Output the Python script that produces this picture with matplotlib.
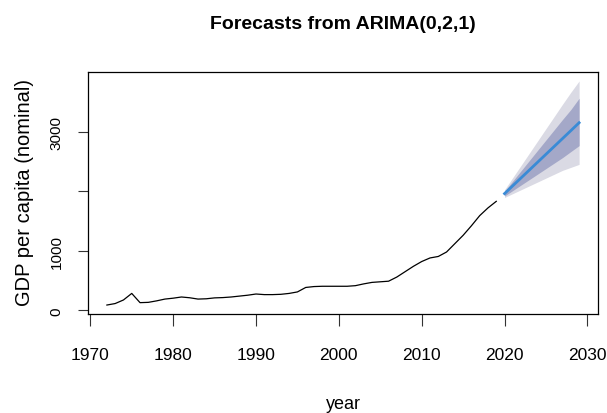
import numpy as np
import matplotlib
matplotlib.use("Agg")
import matplotlib.pyplot as plt

# observed GDP per capita (nominal), 1972-2019
years = np.arange(1972, 2020)
gdp = [90, 115, 175, 285, 130, 135, 160, 190, 205, 225,
       212, 190, 195, 210, 215, 225, 240, 255, 275, 265,
       265, 270, 285, 310, 385, 400, 405, 405, 405, 405,
       415, 445, 470, 480, 490, 560, 650, 740, 820, 880,
       905, 980, 1120, 1260, 1420, 1590, 1720, 1830]

# ARIMA(0,2,1) point forecast and prediction intervals, 2020-2029
fc_years = np.arange(2020, 2030)
fc_mean = [1960, 2092, 2224, 2356, 2488, 2620, 2752, 2884, 3016, 3149]
lo80 = [1920, 2012, 2104, 2196, 2288, 2380, 2472, 2564, 2665, 2765]
hi80 = [2000, 2172, 2344, 2516, 2688, 2860, 3032, 3204, 3370, 3560]
lo95 = [1895, 1960, 2025, 2090, 2155, 2220, 2285, 2350, 2400, 2450]
hi95 = [2025, 2230, 2435, 2640, 2845, 3050, 3255, 3460, 3660, 3850]

yticks = [0, 1000, 2000, 3000]
ytick_labels = ["0", "1000", "", "3000"]
xticks = [1970, 1980, 1990, 2000, 2010, 2020, 2030]

font = ["Liberation Sans", "DejaVu Sans"]

W, H = 607, 414
fig = plt.figure(figsize=(W / 100, H / 100), dpi=100)
ax = fig.add_axes([88 / W, 1 - 315 / H, 510 / W, 242 / H])

ax.fill_between(fc_years, lo95, hi95, color="#dadae4", lw=0)
ax.fill_between(fc_years, lo80, hi80, color="#a4a8c8", lw=0)
ax.plot(fc_years, fc_mean, color="#3a8bd6", lw=2)
ax.plot(years, gdp, color="black", lw=0.9)

# R-style 4% padding around the data range
xmin, xmax = years[0], fc_years[-1]
ymin, ymax = min(gdp), max(hi95)
dx, dy = 0.04 * (xmax - xmin), 0.04 * (ymax - ymin)
ax.set_xlim(xmin - dx, xmax + dx)
ax.set_ylim(ymin - dy, ymax + dy)

ax.set_xticks(xticks)
ax.set_xticklabels([str(x) for x in xticks], family=font, fontsize=12.5)
ax.set_yticks(yticks)
ax.set_yticklabels(ytick_labels, family=font, fontsize=11,
                   rotation=90, va="center")
ax.tick_params(axis="x", length=8.5, width=0.8, pad=15, color="#333333")
ax.tick_params(axis="y", length=7.5, width=0.8, pad=10, color="#333333")
for s in ax.spines.values():
    s.set_linewidth(0.9)

fig.text(343 / W, 1 - 24.5 / H, "Forecasts from ARIMA(0,2,1)", family=font,
         fontweight="bold", fontsize=14, ha="center", va="center")
fig.text(343 / W, 1 - 405 / H, "year", family=font, fontsize=13,
         ha="center", va="center")
fig.text(25 / W, 1 - 192 / H, "GDP per capita (nominal)", family=font,
         fontsize=14.5, rotation=90, ha="center", va="center")

fig.savefig("out.png", dpi=100)
